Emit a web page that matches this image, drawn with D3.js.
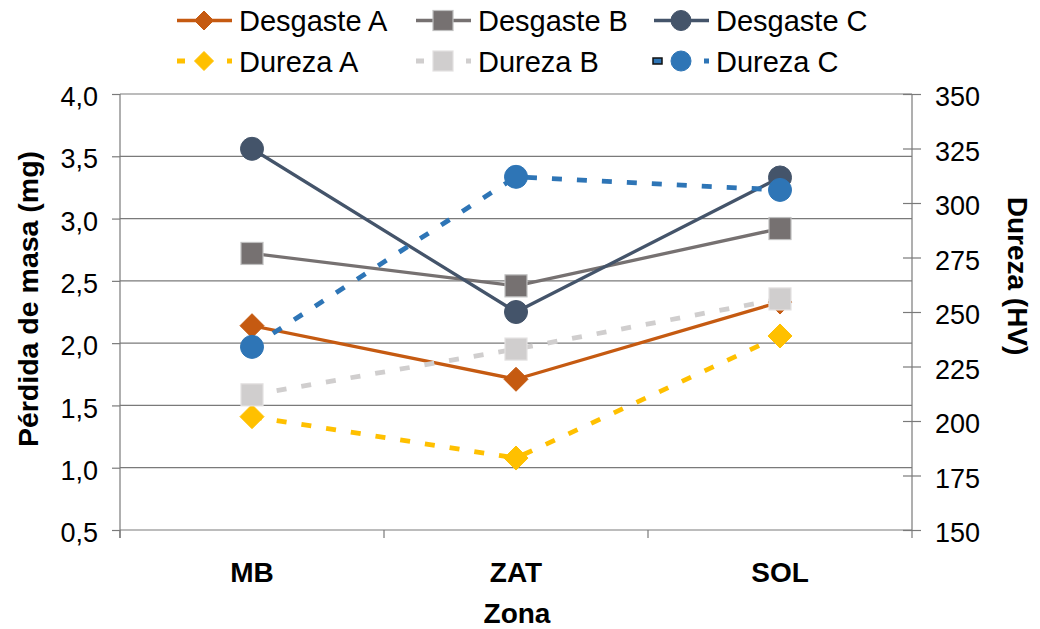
<!DOCTYPE html>
<html>
<head>
<meta charset="utf-8">
<script src="https://cdn.jsdelivr.net/npm/d3@7"></script>
<style>
  html, body { margin: 0; padding: 0; background: #fff; }
  svg { display: block; }
  text { font-family: "Liberation Sans", Arial, sans-serif; fill: #000; }
</style>
</head>
<body>
<svg id="chart" width="1040" height="629"></svg>
<script>
// ---- data ----
const categories = ["MB", "ZAT", "SOL"];
const desgasteA = [2.14, 1.71, 2.33];
const desgasteB = [2.72, 2.46, 2.92];
const desgasteC = [3.56, 2.25, 3.33];
const durezaA = [202, 183, 239];
const durezaB = [212, 233, 256];
const durezaC = [234, 312, 306];
const leftTicks = [0.5, 1.0, 1.5, 2.0, 2.5, 3.0, 3.5, 4.0];
const rightTicks = [150, 175, 200, 225, 250, 275, 300, 325, 350];

const series = [
  { name: "Desgaste A", values: desgasteA, axis: "L", color: "#C55A11", stroke: "#C55A11", marker: "diamond", dash: null },
  { name: "Desgaste B", values: desgasteB, axis: "L", color: "#767171", stroke: "#BFBFBF", marker: "square", dash: null },
  { name: "Desgaste C", values: desgasteC, axis: "L", color: "#44546A", stroke: "#44546A", marker: "circle", dash: null },
  { name: "Dureza A", values: durezaA, axis: "R", color: "#FFC000", stroke: "#FFC000", marker: "diamond", dash: "10,15" },
  { name: "Dureza B", values: durezaB, axis: "R", color: "#D0CECE", stroke: "#E3E1E1", marker: "square", dash: "10,15" },
  { name: "Dureza C", values: durezaC, axis: "R", color: "#2E75B6", stroke: "#2E75B6", marker: "circle", dash: "10,15" }
];

(function () {
const svg = d3.select("#chart");
const pLeft = 120, pRight = 912, pTop = 94, pBottom = 530;
const gridColor = "#7a7a7a";

const x = d3.scaleBand().domain(categories).range([pLeft, pRight]);
const yL = d3.scaleLinear().domain([0.5, 4.0]).range([pBottom, pTop]);
const yR = d3.scaleLinear().domain([150, 350]).range([pBottom, pTop]);

// gridlines
svg.append("g").selectAll("line").data(leftTicks).join("line")
  .attr("x1", pLeft).attr("x2", pRight)
  .attr("y1", d => yL(d)).attr("y2", d => yL(d))
  .attr("stroke", gridColor).attr("stroke-width", 1.2);

// left axis
const axL = svg.append("g").attr("transform", `translate(${pLeft},0)`)
  .call(d3.axisLeft(yL).tickValues(leftTicks).tickSizeInner(8).tickSizeOuter(0).tickPadding(14)
    .tickFormat(d => d.toFixed(1).replace(".", ",")));
axL.select(".domain").remove();
axL.selectAll(".tick line").attr("stroke", gridColor).attr("stroke-width", 1.2);
axL.selectAll(".tick text").attr("font-size", 27).attr("dy", "0.43em")
  .style("font-family", "'Liberation Sans', Arial, sans-serif").attr("fill", "#000");
svg.append("line").attr("x1", pLeft).attr("x2", pLeft).attr("y1", pTop).attr("y2", pBottom + 8)
  .attr("stroke", gridColor).attr("stroke-width", 1.2);

// right axis
const axR = svg.append("g").attr("transform", `translate(${pRight},0)`)
  .call(d3.axisRight(yR).tickValues(rightTicks).tickSizeInner(9).tickSizeOuter(0).tickPadding(14));
axR.select(".domain").remove();
axR.selectAll(".tick line").attr("x1", -9).attr("x2", 9).attr("stroke", gridColor).attr("stroke-width", 1.2);
axR.selectAll(".tick text").attr("font-size", 27).attr("dy", "0.43em")
  .style("font-family", "'Liberation Sans', Arial, sans-serif").attr("fill", "#000");
svg.append("line").attr("x1", pRight).attr("x2", pRight).attr("y1", pTop).attr("y2", pBottom)
  .attr("stroke", gridColor).attr("stroke-width", 1.2);

// bottom axis ticks at band boundaries
const bounds = categories.map(c => x(c)).concat([x.range()[1]]);
svg.append("g").selectAll("line").data(bounds).join("line")
  .attr("x1", d => d).attr("x2", d => d).attr("y1", pBottom).attr("y2", pBottom + 8)
  .attr("stroke", gridColor).attr("stroke-width", 1.2);
svg.append("g").selectAll("text").data(categories).join("text")
  .attr("x", d => x(d) + x.bandwidth() / 2).attr("y", 582)
  .attr("text-anchor", "middle").attr("font-size", 28).attr("font-weight", "bold")
  .text(d => d);

// axis titles
svg.append("text").attr("transform", "translate(517,623)")
  .attr("text-anchor", "middle").attr("font-size", 28).attr("font-weight", "bold").text("Zona");
svg.append("text").attr("transform", "translate(38,299) rotate(-90)")
  .attr("text-anchor", "middle").attr("font-size", 28.5).attr("font-weight", "bold").text("Pérdida de masa (mg)");
svg.append("text").attr("transform", "translate(1008,276) rotate(90)")
  .attr("text-anchor", "middle").attr("font-size", 28).attr("font-weight", "bold").text("Dureza (HV)");

// markers
function drawMarker(g, type, cx, cy, size, fill, stroke) {
  if (type === "circle") {
    g.append("circle").attr("cx", cx).attr("cy", cy).attr("r", size)
      .attr("fill", fill).attr("stroke", stroke).attr("stroke-width", 1);
  } else if (type === "square") {
    g.append("rect").attr("x", cx - size).attr("y", cy - size).attr("width", 2 * size).attr("height", 2 * size)
      .attr("fill", fill).attr("stroke", stroke).attr("stroke-width", 1.2);
  } else {
    g.append("path").attr("d", `M${cx},${cy - size}L${cx + size},${cy}L${cx},${cy + size}L${cx - size},${cy}Z`)
      .attr("fill", fill).attr("stroke", stroke).attr("stroke-width", 1);
  }
}
const msize = { circle: 11.5, square: 11, diamond: 12 };
const lsize = { circle: 10, square: 10, diamond: 9.5 };

// series
series.forEach(s => {
  const y = s.axis === "L" ? yL : yR;
  const g = svg.append("g");
  const line = d3.line().x((d, i) => x(categories[i]) + x.bandwidth() / 2).y(d => y(d));
  g.append("path").attr("d", line(s.values)).attr("fill", "none")
    .attr("stroke", s.color).attr("stroke-width", s.dash ? 4.8 : 3.3)
    .attr("stroke-dasharray", s.dash).attr("stroke-linejoin", "round");
  s.values.forEach((v, i) => {
    drawMarker(g, s.marker, x(categories[i]) + x.bandwidth() / 2, y(v), msize[s.marker], s.color, s.stroke);
  });
});

// legend
const legCols = [204, 443, 681];
const legRows = [20.5, 61];
series.forEach((s, k) => {
  const cx = legCols[k % 3], cy = legRows[Math.floor(k / 3)];
  const g = svg.append("g");
  if (s.dash) {
    g.append("line").attr("x1", cx - 27).attr("x2", cx + 28).attr("y1", cy).attr("y2", cy)
      .attr("stroke", s.color).attr("stroke-width", 4.8).attr("stroke-dasharray", "8,17");
    if (s.name === "Dureza C") {
      g.append("rect").attr("x", cx - 28).attr("y", cy - 3).attr("width", 9).attr("height", 6)
        .attr("fill", "#2E75B6").attr("stroke", "#111").attr("stroke-width", 1.5);
    }
  } else {
    g.append("line").attr("x1", cx - 27).attr("x2", cx + 28).attr("y1", cy).attr("y2", cy)
      .attr("stroke", s.color).attr("stroke-width", 3.5);
  }
  drawMarker(g, s.marker, cx, cy, lsize[s.marker], s.color, s.stroke);
  g.append("text").attr("x", cx + 35).attr("y", cy + 10.5).attr("font-size", 29).text(s.name);
});
})();
</script>
</body>
</html>
